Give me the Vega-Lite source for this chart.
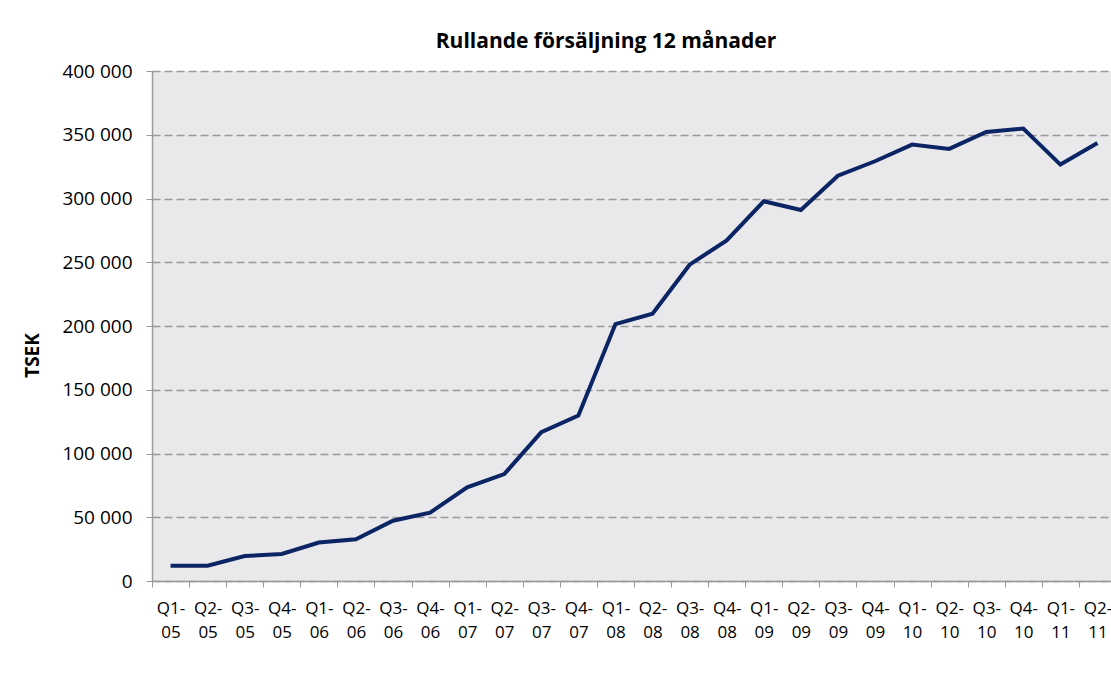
{
  "$schema": "https://vega.github.io/schema/vega-lite/v6.json",
  "autosize": {"type": "none"},
  "width": 964,
  "height": 510,
  "padding": {"left": 152, "top": 71, "right": 0, "bottom": 101},
  "background": "white",
  "title": {
    "text": "Rullande försäljning 12 månader",
    "fontSize": 21,
    "fontWeight": "bold",
    "font": "Open Sans",
    "color": "#000000",
    "anchor": "middle",
    "dx": -28,
    "offset": 10
  },
  "data": {
    "values": [
      {"q": "Q1-05", "v": 12000},
      {"q": "Q2-05", "v": 12000},
      {"q": "Q3-05", "v": 19600},
      {"q": "Q4-05", "v": 21200},
      {"q": "Q1-06", "v": 30200},
      {"q": "Q2-06", "v": 32700},
      {"q": "Q3-06", "v": 47300},
      {"q": "Q4-06", "v": 53600},
      {"q": "Q1-07", "v": 73500},
      {"q": "Q2-07", "v": 83800},
      {"q": "Q3-07", "v": 116700},
      {"q": "Q4-07", "v": 129800},
      {"q": "Q1-08", "v": 201500},
      {"q": "Q2-08", "v": 209600},
      {"q": "Q3-08", "v": 248100},
      {"q": "Q4-08", "v": 267100},
      {"q": "Q1-09", "v": 297800},
      {"q": "Q2-09", "v": 291000},
      {"q": "Q3-09", "v": 317900},
      {"q": "Q4-09", "v": 329200},
      {"q": "Q1-10", "v": 342300},
      {"q": "Q2-10", "v": 338900},
      {"q": "Q3-10", "v": 352200},
      {"q": "Q4-10", "v": 354800},
      {"q": "Q1-11", "v": 326600},
      {"q": "Q2-11", "v": 343600}
    ]
  },
  "mark": {"type": "line", "color": "#0B2463", "strokeWidth": 4},
  "encoding": {
    "x": {
      "field": "q",
      "type": "ordinal",
      "sort": null,
      "scale": {"type": "band", "paddingInner": 0, "paddingOuter": 0},
      "axis": {
        "title": null,
        "labelAngle": 0,
        "labelExpr": "isValid(datum.value) ? [substring(datum.value, 0, 3), substring(datum.value, 3)] : ''",
        "labelLineHeight": 24,
        "labelFontSize": 17,
        "labelFont": "Open Sans",
        "labelColor": "#000000",
        "labelPadding": 13,
        "tickBand": "extent",
        "tickSize": 6,
        "tickColor": "#9a9a9a",
        "domainColor": "#9a9a9a",
        "domainWidth": 1.5,
        "grid": false
      }
    },
    "y": {
      "field": "v",
      "type": "quantitative",
      "scale": {"domain": [0, 400000], "nice": false},
      "axis": {
        "title": "TSEK",
        "titleFont": "Open Sans",
        "titleFontSize": 19,
        "titleFontWeight": "bold",
        "titleColor": "#000000",
        "titleX": -110,
        "titleY": 284,
        "values": [0, 50000, 100000, 150000, 200000, 250000, 300000, 350000, 400000],
        "labelExpr": "replace(format(datum.value, ','), ',', ' ')",
        "labelFont": "Open Sans",
        "labelFontSize": 19,
        "labelColor": "#000000",
        "labelPadding": 14,
        "tickSize": 6,
        "tickColor": "#9a9a9a",
        "domainColor": "#9a9a9a",
        "domainWidth": 1.5,
        "grid": true,
        "gridColor": "#9a9a9a",
        "gridDash": [8, 4],
        "gridWidth": 1.5
      }
    }
  },
  "config": {
    "view": {"stroke": null, "fill": "#E9E9EB"}
  }
}
